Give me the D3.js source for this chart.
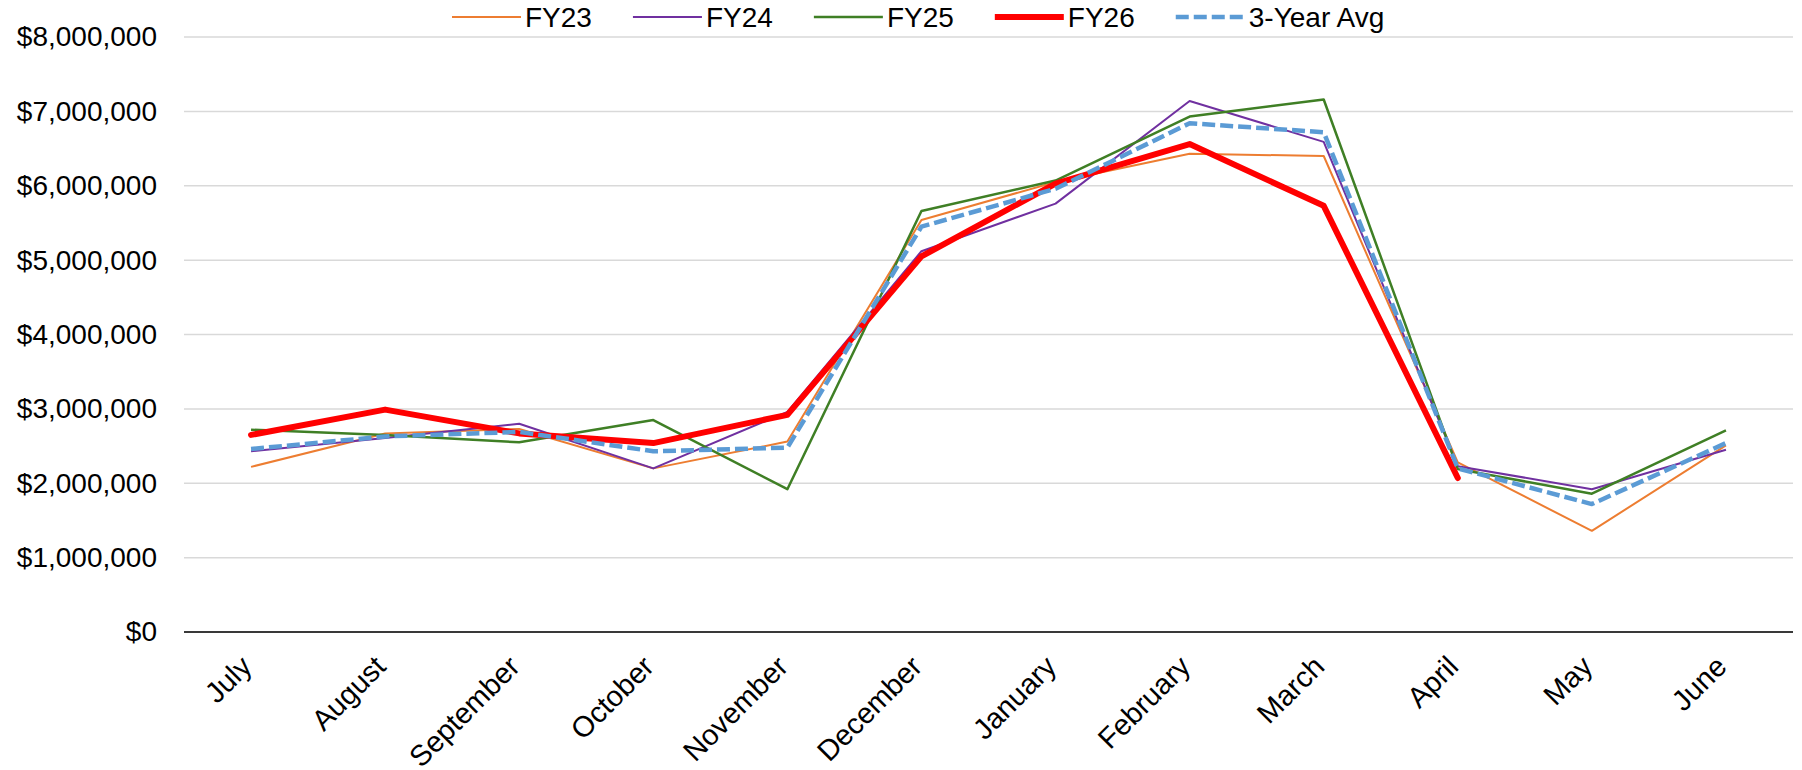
<!DOCTYPE html>
<html>
<head>
<meta charset="utf-8">
<script src="https://cdn.jsdelivr.net/npm/d3@7"></script>
<style>
  body { margin: 0; background: #fff; }
  svg { display: block; font-family: "Liberation Sans", Arial, sans-serif; }
</style>
</head>
<body>
<svg id="chart" width="1802" height="770"></svg>
<script>
// data
var months = ['July', 'August', 'September', 'October', 'November', 'December',
              'January', 'February', 'March', 'April', 'May', 'June'];
var fy23 = [2220000, 2670000, 2730000, 2200000, 2560000, 5540000, 6050000, 6430000, 6400000, 2280000, 1360000, 2510000];
var fy24 = [2430000, 2610000, 2800000, 2200000, 2960000, 5120000, 5760000, 7140000, 6590000, 2230000, 1920000, 2450000];
var fy25 = [2720000, 2650000, 2550000, 2850000, 1920000, 5660000, 6070000, 6930000, 7160000, 2190000, 1860000, 2710000];
var fy26 = [2650000, 2990000, 2670000, 2540000, 2920000, 5050000, 6030000, 6560000, 5730000, 2070000];
var avg3 = [2460000, 2630000, 2690000, 2430000, 2480000, 5450000, 5960000, 6840000, 6720000, 2200000, 1720000, 2540000];
var yTicks = [0, 1000000, 2000000, 3000000, 4000000, 5000000, 6000000, 7000000, 8000000];

var series = [
    {name: 'FY23', values: fy23, color: '#ED7D31', width: 2, dash: null},
    {name: 'FY24', values: fy24, color: '#7030A0', width: 2, dash: null},
    {name: 'FY25', values: fy25, color: '#3F7F25', width: 2.5, dash: null},
    {name: 'FY26', values: fy26, color: '#FF0000', width: 6, dash: null},
    {name: '3-Year Avg', values: avg3, color: '#5B9BD5', width: 4.5, dash: '13,5'}
];

var svg = d3.select('#chart'),
    plotLeft = 184, plotRight = 1793, plotTop = 37, plotBottom = 632;

var x = d3.scalePoint()
    .domain(months)
    .range([plotLeft, plotRight])
    .padding(0.5);

var y = d3.scaleLinear()
    .domain([0, 8000000])
    .range([plotBottom, plotTop]);

// gridlines
svg.append('g')
  .selectAll('line').data(yTicks).enter()
  .append('line')
    .attr('x1', plotLeft)
    .attr('x2', plotRight)
    .attr('y1', y)
    .attr('y2', y)
    .attr('stroke', '#d9d9d9')
    .attr('stroke-width', 1.5);

// y axis labels
var yAxis = svg.append('g')
    .attr('transform', 'translate(' + plotLeft + ',0)')
    .call(d3.axisLeft(y)
        .tickValues(yTicks)
        .tickSize(0)
        .tickPadding(27)
        .tickFormat(function(d) { return '$' + d3.format(',')(d); }));
yAxis.select('.domain').remove();
yAxis.selectAll('text')
    .attr('font-size', 28)
    .attr('font-family', '"Liberation Sans", Arial, sans-serif')
    .attr('fill', '#000');

// x axis line
svg.append('line')
    .attr('x1', plotLeft)
    .attr('x2', plotRight)
    .attr('y1', y(0))
    .attr('y2', y(0))
    .attr('stroke', '#000')
    .attr('stroke-width', 1.5);

// month labels, rotated
svg.append('g')
  .selectAll('text').data(months).enter()
  .append('text')
    .attr('transform', function(d) { return 'translate(' + (x(d) - 12) + ',' + (y(0) + 22) + ') rotate(-45)'; })
    .attr('text-anchor', 'end')
    .attr('dy', '0.7em')
    .attr('font-size', 29)
    .attr('fill', '#000')
    .text(function(d) { return d; });

// lines
var line = d3.line()
    .x(function(d, i) { return x(months[i]); })
    .y(function(d) { return y(d); });

svg.append('g')
  .selectAll('path').data(series).enter()
  .append('path')
    .attr('d', function(d) { return line(d.values); })
    .attr('fill', 'none')
    .attr('stroke', function(d) { return d.color; })
    .attr('stroke-width', function(d) { return d.width; })
    .attr('stroke-dasharray', function(d) { return d.dash; })
    .attr('stroke-linejoin', 'round')
    .attr('stroke-linecap', function(d) { return d.name === 'FY26' ? 'round' : 'butt'; });

// legend
var legend = svg.append('g'),
    lx = 452,
    ly = 17;
series.forEach(function(s) {
    var item = legend.append('g').attr('transform', 'translate(' + lx + ',' + ly + ')');
    item.append('line')
        .attr('x1', 0)
        .attr('x2', 69)
        .attr('stroke', s.color)
        .attr('stroke-width', s.width)
        .attr('stroke-dasharray', s.dash);
    var t = item.append('text')
        .attr('x', 73)
        .attr('dy', '0.35em')
        .attr('font-size', 28)
        .attr('fill', '#000')
        .text(s.name);
    lx += 73 + t.node().getComputedTextLength() + 41;
});
</script>
</body>
</html>
